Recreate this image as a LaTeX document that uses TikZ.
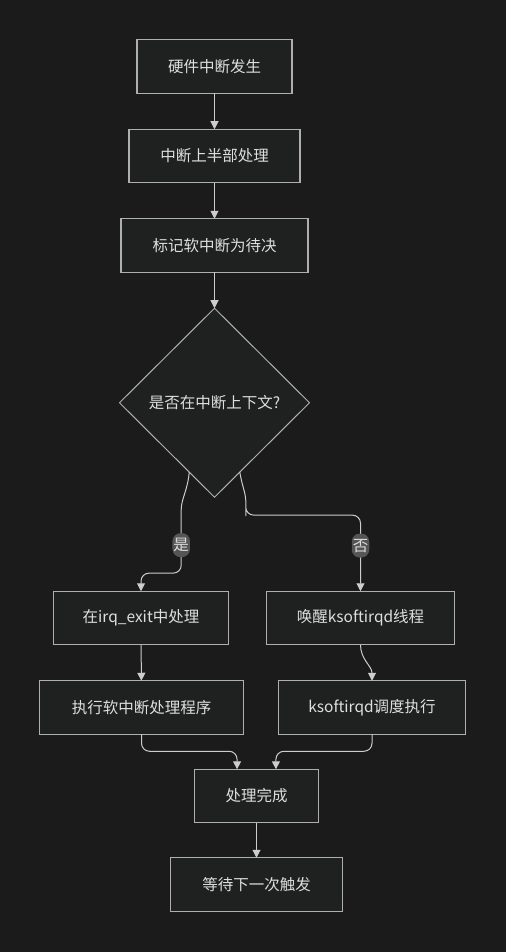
\documentclass[tikz,border=0pt]{standalone}
\usepackage{fontspec}
\setmainfont{Noto Sans CJK SC}
\usepackage{tikz}
\usetikzlibrary{positioning, arrows.meta, shapes.geometric}
\definecolor{fondo}{RGB}{27,27,27}
\definecolor{caja}{RGB}{31,33,33}
\definecolor{borde}{RGB}{175,175,175}
\definecolor{linea}{RGB}{205,205,205}
\definecolor{texto}{RGB}{222,222,222}
\definecolor{etiqfondo}{RGB}{85,85,85}

\begin{document}
\begin{tikzpicture}[
  proc/.style={
    rectangle, draw=borde, line width=1.1pt,
    fill=caja, text=texto,
    font=\fontsize{15.5}{18}\selectfont,
    minimum width=#1, minimum height=53.5pt,
    inner sep=0pt, outer sep=0pt
  },
  decis/.style={
    diamond, draw=borde, line width=1pt,
    fill=caja, text=texto,
    font=\fontsize{15.5}{18}\selectfont,
    minimum width=190pt, minimum height=189pt,
    inner sep=0pt, outer sep=0pt
  },
  etiq/.style={
    rectangle, fill=etiqfondo, text=texto,
    font=\fontsize{15.5}{18}\selectfont,
    inner xsep=1pt, inner ysep=0pt, minimum height=24pt
  },
  flowarr/.style={
    -{Triangle[length=8pt, width=8pt]}, line width=1pt, color=linea,
    rounded corners=8pt
  }
]
\fill[fondo] (0,0) rectangle (506pt,-952pt);
\useasboundingbox (0,0) rectangle (506pt,-952pt);

\node[proc=155pt] (hw) at (214.5pt,-66.5pt) {硬件中断发生};
\node[proc=171pt, below=36pt of hw]   (top)  {中断上半部处理};
\node[proc=187pt, below=36pt of top]  (mark) {标记软中断为待决};
\node[decis,      below=36pt of mark] (ctx)  {是否在中断上下文?};

\node[proc=175pt, below=94pt of ctx, xshift=-73.5pt] (irq)  {在irq\_exit中处理};
\node[proc=188pt, below=94pt of ctx, xshift=146pt]   (wake) {唤醒ksoftirqd线程};
\node[proc=204pt, below=36pt of irq, xshift=0.5pt]   (exec) {执行软中断处理程序};
\node[proc=187pt, below=36pt of wake, xshift=11.5pt] (sched) {ksoftirqd调度执行};
\node[proc=124pt, below=35pt of exec, xshift=115pt]  (done) {处理完成};
\node[proc=172pt, below=35pt of done] (wait) {等待下一次触发};

\draw[flowarr] (hw)   -- (top);
\draw[flowarr] (top)  -- (mark);
\draw[flowarr] (mark) -- (ctx);

\draw[flowarr] (ctx.250) to[out=265, in=90] ++(-8pt,-45pt)
  -- node[etiq] {是} ++(0,-56pt) -| (irq.north);
\draw[flowarr] (ctx.290) to[out=-80, in=90] ++(6pt,-36pt)
  -- ++(0,-7pt) -| node[etiq, pos=0.7] {否} (wake.north);

\draw[flowarr] (irq)  -- (exec);
\draw[flowarr] (wake.south) to[out=-90, in=90] (sched.north);

\draw[flowarr] (exec.south)  -- ++(0,-17pt) -| (done.126);
\draw[flowarr] (sched.south) -- ++(0,-17pt) -| (done.54);
\draw[flowarr] (done) -- (wait);
\end{tikzpicture}
\end{document}
